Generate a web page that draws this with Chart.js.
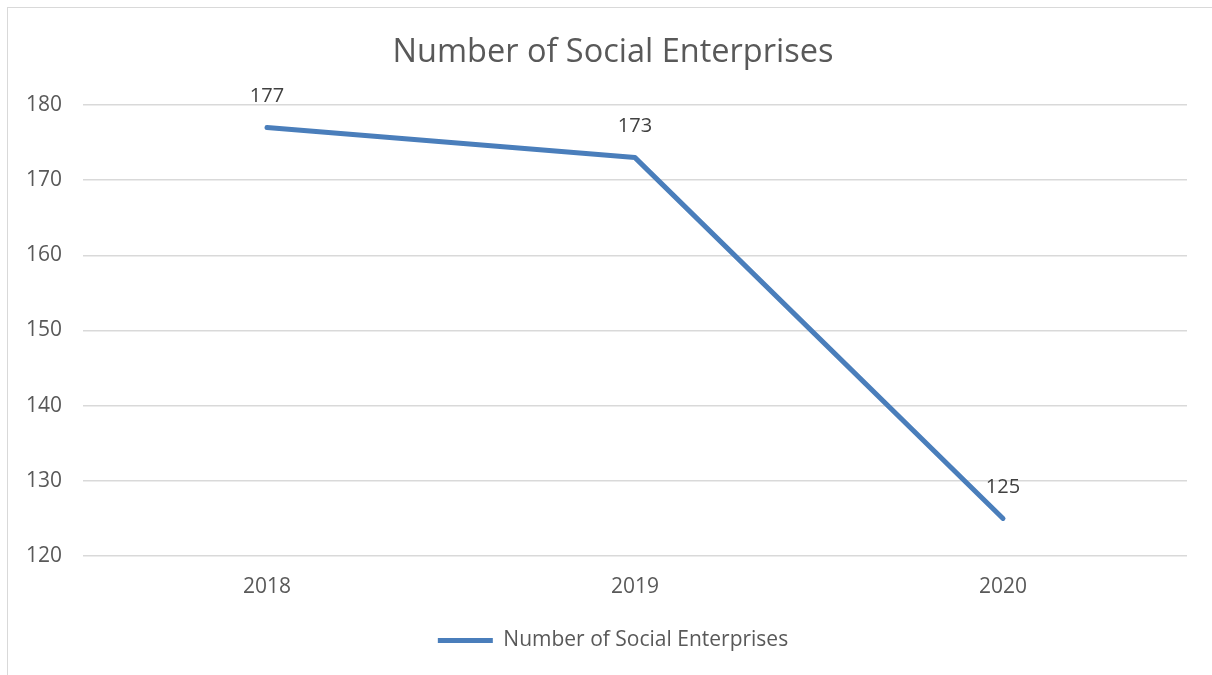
<!DOCTYPE html>
<html>
<head>
<meta charset="utf-8">
<script src="https://cdn.jsdelivr.net/npm/chart.js@4"></script>
<style>
  html, body { margin: 0; padding: 0; background: #fff; overflow: hidden; }
  #frame {
    position: absolute; left: 7px; top: 7px;
    width: 1210px; height: 668px;
    border-left: 1px solid #d9d9d9; border-top: 1px solid #d9d9d9;
  }
  #chartCanvas { display: block; }
</style>
</head>
<body>
<div id="frame"><canvas id="chartCanvas" width="1210" height="668"></canvas></div>
<script>
// dados do gráfico
const anos = ["2018", "2019", "2020"];
const empresas = [177, 173, 125];
const tituloTexto = "Number of Social Enterprises";
const nomeSerie = "Number of Social Enterprises";

const fonte = "'Open Sans', sans-serif";
const corTexto = "#595959";
const corLinha = "#4a7ebb";

// rótulos de dados acima de cada ponto
const rotulosPlugin = {
  id: "rotulos",
  afterDatasetsDraw(chart) {
    const ctx = chart.ctx;
    const meta = chart.getDatasetMeta(0);
    ctx.save();
    ctx.font = "20px " + fonte;
    ctx.fillStyle = "#404040";
    ctx.textAlign = "center";
    ctx.textBaseline = "middle";
    meta.data.forEach((pt, i) => {
      ctx.fillText(String(chart.data.datasets[0].data[i]), pt.x, pt.y - 31);
    });
    ctx.restore();
  }
};

const chartCanvas = document.getElementById("chartCanvas");
new Chart(chartCanvas, {
  type: "line",
  data: {
    labels: anos,
    datasets: [{
      label: nomeSerie,
      data: empresas,
      borderColor: corLinha,
      backgroundColor: corLinha,
      borderWidth: 5,
      borderCapStyle: "round",
      borderJoinStyle: "round",
      pointRadius: 0,
      pointHoverRadius: 0,
      tension: 0,
      fill: false
    }]
  },
  options: {
    responsive: false,
    animation: false,
    layout: { padding: { left: 0, right: 0, top: 0, bottom: 15 } },
    plugins: {
      title: {
        display: true,
        text: tituloTexto,
        color: corTexto,
        font: { family: fonte, size: 32.5, weight: "normal" },
        padding: { top: 25, bottom: 33 }
      },
      legend: {
        position: "bottom",
        labels: {
          color: corTexto,
          font: { family: fonte, size: 21 },
          usePointStyle: true,
          pointStyle: "line",
          pointStyleWidth: 55,
          padding: 10
        }
      },
      tooltip: { enabled: false }
    },
    scales: {
      x: {
        offset: true,
        grid: { display: false, drawTicks: false },
        border: { display: false },
        ticks: { color: corTexto, font: { family: fonte, size: 21 }, padding: 18 },
        afterFit(scale) { scale.height = 64; }
      },
      y: {
        min: 120,
        max: 180,
        grid: { color: "#d9d9d9", lineWidth: 1.5, drawTicks: false },
        border: { display: false },
        ticks: { stepSize: 10, color: corTexto, font: { family: fonte, size: 21 }, padding: 21 },
        afterFit(scale) { scale.width = 75; }
      },
      // eixo vazio à direita, só para reservar a margem
      margemDireita: {
        type: "linear",
        position: "right",
        grid: { display: false, drawTicks: false },
        border: { display: false },
        ticks: { display: false },
        afterFit(scale) { scale.width = 31; }
      }
    }
  },
  plugins: [rotulosPlugin]
});
</script>
</body>
</html>
